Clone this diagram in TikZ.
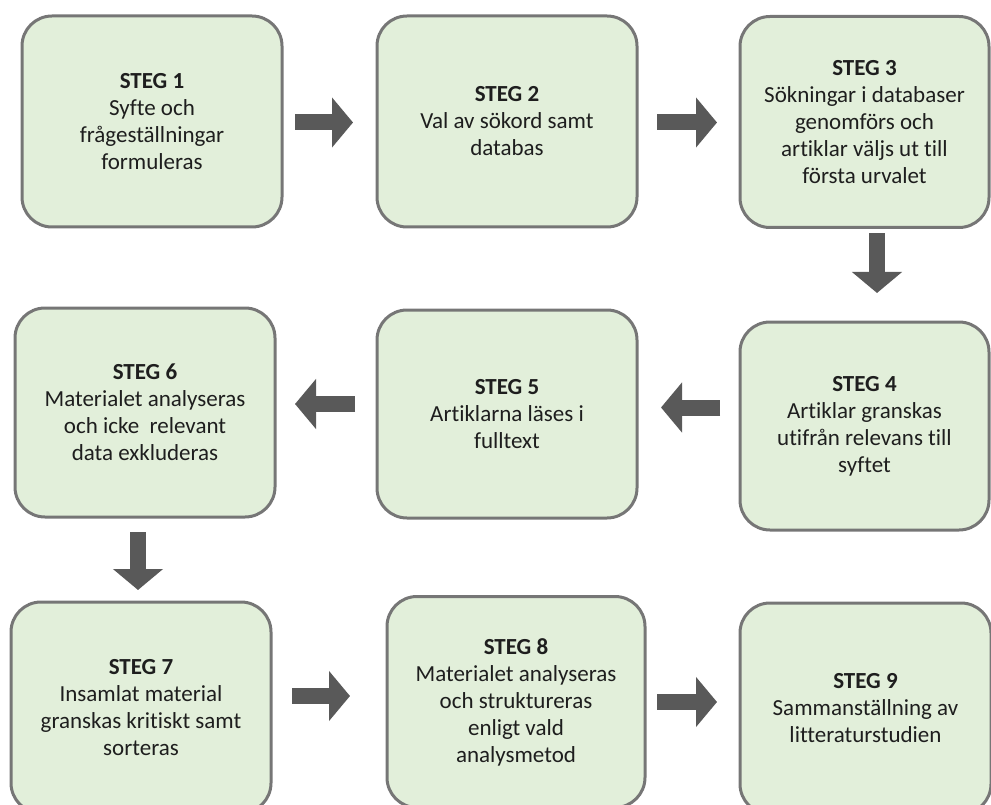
\documentclass[tikz,border=0pt]{standalone}
\usepackage{fontspec}
\setmainfont{Carlito}[Ligatures=NoCommon]
\usetikzlibrary{arrows.meta}
\definecolor{boxfill}{HTML}{E2EFDA}
\definecolor{boxline}{HTML}{767676}
\definecolor{arrowgray}{HTML}{595959}
\definecolor{textgray}{HTML}{1E1E1E}
\tikzset{
  stepbox/.style={draw=boxline, fill=boxfill, line width=3pt, rounded corners=30pt,
    minimum width=260pt, minimum height=211pt, align=center, text=textgray,
    font={\fontsize{23}{27}\selectfont}, inner sep=0pt, outer sep=0pt},
  narrowbox/.style={stepbox, minimum width=249pt},
  flow/.style={draw=arrowgray, line width=16pt, -{Triangle[length=21pt,width=49pt]}, arrowgray}
}
\begin{document}
\begin{tikzpicture}[x=1pt,y=-1pt]
  \clip (0,0) rectangle (991,805);
  \node[stepbox] (b1) at (152,121.5) {\textbf{STEG 1}\\Syfte och\\frågeställningar\\formuleras};
  \node[stepbox] (b2) at (507,121.5) {\textbf{STEG 2}\\Val av sökord samt\\databas};
  \node[narrowbox] (b3) at (864.5,122) {\textbf{STEG 3}\\Sökningar i databaser\\genomförs och\\artiklar väljs ut till\\första urvalet};
  \node[narrowbox, minimum height=208pt] (b4) at (864.5,426) {\textbf{STEG 4}\\Artiklar granskas\\utifrån relevans till\\syftet};
  \node[stepbox, minimum height=208pt] (b5) at (507,414) {\textbf{STEG 5}\\Artiklarna läses i\\fulltext};
  \node[stepbox, minimum height=209pt] (b6) at (145,412.5) {\textbf{STEG 6}\\Materialet analyseras\\och icke~ relevant\\data exkluderas};
  \node[stepbox] (b7) at (141,707.5) {\textbf{STEG 7}\\Insamlat material\\granskas kritiskt samt\\sorteras};
  \node[stepbox, minimum width=258pt] (b8) at (516,702) {\textbf{STEG 8}\\Materialet analyseras\\och struktureras\\enligt vald\\analysmetod};
  \node[narrowbox, minimum width=251pt] (b9) at (865.5,708.5) {\textbf{STEG 9}\\Sammanställning av\\litteraturstudien};

  \draw[flow] ([xshift=13pt,yshift=-1pt]b1.east) -- ([xshift=-24pt,yshift=-1pt]b2.west);
  \draw[flow] ([xshift=20pt,yshift=-1pt]b2.east) -- ([xshift=-23pt,yshift=-0.5pt]b3.west);
  \draw[flow] ([xshift=12.5pt,yshift=-6pt]b3.south) -- ([xshift=12.5pt,yshift=29pt]b4.north);
  \draw[flow] ([xshift=-20pt,yshift=18.5pt]b4.west) -- ([xshift=24pt,yshift=6.5pt]b5.east);
  \draw[flow] ([xshift=-22pt,yshift=10pt]b5.west) -- ([xshift=20pt,yshift=8.5pt]b6.east);
  \draw[flow] ([xshift=-7pt,yshift=-15pt]b6.south) -- ([xshift=-3pt,yshift=12pt]b7.north);
  \draw[flow] ([xshift=21pt,yshift=11.5pt]b7.east) -- ([xshift=-37pt,yshift=6pt]b8.west);
  \draw[flow] ([xshift=12pt]b8.east) -- ([xshift=-23pt,yshift=6.5pt]b9.west);
\end{tikzpicture}
\end{document}
